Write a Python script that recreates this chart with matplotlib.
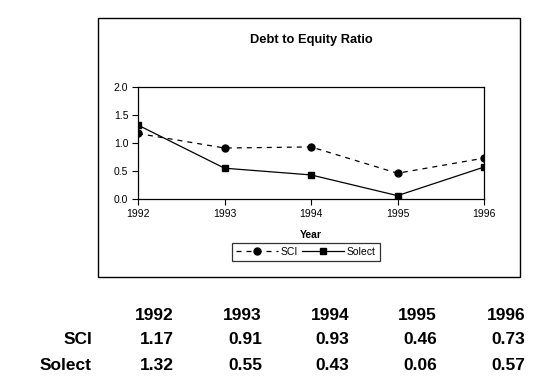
import matplotlib.pyplot as plt
from matplotlib.patches import Rectangle

years = [1992, 1993, 1994, 1995, 1996]
sci = [1.17, 0.91, 0.93, 0.46, 0.73]
solect = [1.32, 0.55, 0.43, 0.06, 0.57]
row_names = ["SCI", "Solect"]

plt.rcParams['font.family'] = ['Liberation Sans', 'DejaVu Sans']

W, H = 538, 379
fig = plt.figure(figsize=(W / 100, H / 100), dpi=100)

# chart frame
fig.patches.append(Rectangle((98 / W, 1 - 277 / H), (520 - 98) / W, (277 - 18) / H,
                             transform=fig.transFigure, fill=False, edgecolor='black', lw=1))

ax = fig.add_axes([138 / W, 1 - 199 / H, (484 - 138) / W, (199 - 87) / H])
ax.plot(years, sci, color='black', lw=0.9, ls=(0, (4, 4)), marker='o', ms=5, label='SCI')
ax.plot(years, solect, color='black', lw=0.9, ls='-', marker='s', ms=4.5, label='Solect')

ax.set_xlim(1992, 1996)
ax.set_ylim(0, 2.0)
ax.set_xticks(years)
ax.set_yticks([0, 0.5, 1.0, 1.5, 2.0])
ax.set_yticklabels(["0.0", "0.5", "1.0", "1.5", "2.0"])
ax.tick_params(labelsize=7.5, length=4, width=0.8, direction='out', pad=3)
for s in ax.spines.values():
    s.set_linewidth(0.9)
ax.set_xlabel("Year", fontsize=7.5, fontweight='bold', labelpad=8)
fig.text(311 / W, 1 - 40 / H, "Debt to Equity Ratio", ha='center', va='center',
         fontsize=9.3, fontweight='bold')

leg = fig.legend(loc='center', bbox_to_anchor=(306 / W, 1 - 252 / H), ncol=2, fontsize=7.5,
                 frameon=True, fancybox=False, edgecolor='black', handlelength=4,
                 columnspacing=0.4, handletextpad=0.3, borderpad=0.35, borderaxespad=0)
leg.get_frame().set_linewidth(0.9)

# data table under the chart
col_right = [174, 262, 349, 437, 525]
for x, yr in zip(col_right, years):
    fig.text(x / W, 1 - 315 / H, str(yr), ha='right', va='center', fontsize=12.5, fontweight='bold')
for y, name, vals in zip([340, 365], row_names, [sci, solect]):
    fig.text(92 / W, 1 - y / H, name, ha='right', va='center', fontsize=12.5, fontweight='bold')
    for x, v in zip(col_right, vals):
        fig.text(x / W, 1 - y / H, f"{v:.2f}", ha='right', va='center', fontsize=12.5, fontweight='bold')

fig.savefig("out.png", dpi=100)
